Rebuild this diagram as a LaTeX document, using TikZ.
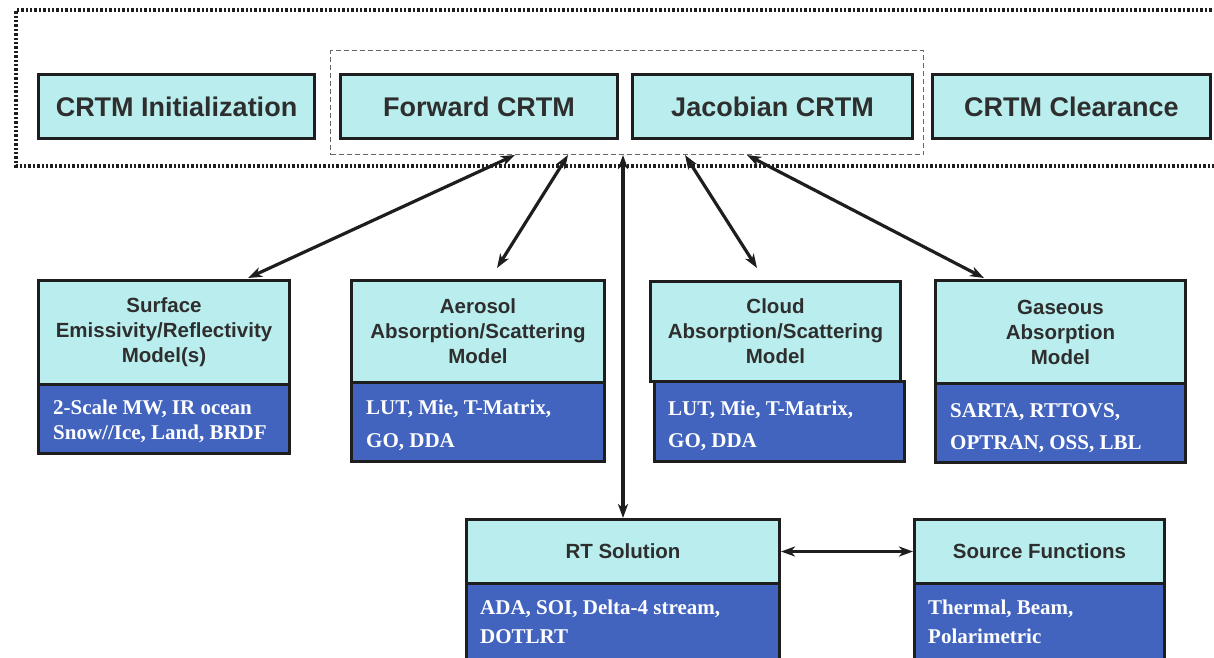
\documentclass[tikz,border=0pt]{standalone}
\usepackage{fontspec}
\setmainfont{Liberation Sans}
\newfontfamily\tnr{Liberation Serif}
\usetikzlibrary{arrows.meta,calc}
\definecolor{lightc}{HTML}{BAEEEE}
\definecolor{darkb}{HTML}{4264BE}
\definecolor{txt}{HTML}{2E2E2E}
\definecolor{edge}{HTML}{1E1E1E}
\begin{document}
\begin{tikzpicture}[x=1pt,y=-1pt,
  topbox/.style={draw=edge, line width=3pt, fill=lightc, anchor=north west, inner sep=0pt, text=txt, minimum height=64pt, font=\fontsize{27}{30}\selectfont\bfseries},
  litebox/.style={draw=edge, line width=3pt, fill=lightc, anchor=north west, inner sep=0pt, text=txt, align=center, font=\fontsize{20.5}{25}\selectfont\bfseries},
  darkbox/.style={draw=edge, line width=3pt, fill=darkb, anchor=north west, inner sep=0pt},
  darktext/.style={anchor=base west, inner sep=0pt, text=white, font=\tnr\fontsize{21}{25}\selectfont\bfseries},
  grpbox/.style={draw=black!60, line width=1pt, dash pattern=on 5pt off 3pt, anchor=north west, inner sep=0pt},
  link/.style={draw=edge, line width=3.2pt, {Stealth[length=14pt,width=10pt,inset=4pt]}-{Stealth[length=14pt,width=10pt,inset=4pt]}},
]
\useasboundingbox (0,0) rectangle (1214,657);
% outer dotted frame (open at the right edge)
\draw[edge, line width=3.2pt, dash pattern=on 2.4pt off 2pt] (1216,10) -- (16,10) -- (16,166) -- (1216,166);
% dashed group
\node[grpbox, minimum width=593pt, minimum height=104pt] (grp) at (330,50) {};
% top row
\node[topbox, minimum width=276pt] (init) at (37,73) {CRTM Initialization};
\node[topbox, minimum width=277pt] (fwd) at (339,73) {Forward CRTM};
\node[topbox, minimum width=280pt] (jac) at (631,73) {Jacobian CRTM};
\node[topbox, minimum width=278pt] (clr) at (931,73) {CRTM Clearance};
% middle row
\node[litebox, minimum width=251pt, minimum height=104pt] (surf) at (37,279) {Surface\\Emissivity/Reflectivity\\Model(s)};
\node[darkbox, minimum width=251pt, minimum height=69pt] (surfd) at (37,383) {};
\node[darktext] (surf1) at (53,414) {2-Scale MW, IR ocean};
\node[darktext] (surf2) at (53,439) {Snow//Ice, Land, BRDF};
\node[litebox, minimum width=253pt, minimum height=102pt] (aer) at (350,279) {Aerosol\\Absorption/Scattering\\Model};
\node[darkbox, minimum width=253pt, minimum height=79pt] (aerd) at (350,381) {};
\node[darktext] (aer1) at (366,414) {LUT, Mie, T-Matrix,};
\node[darktext] (aer2) at (366,447) {GO, DDA};
\node[litebox, minimum width=250pt, minimum height=100pt] (cld) at (649,280) {Cloud\\Absorption/Scattering\\Model};
\node[darkbox, minimum width=250pt, minimum height=80pt] (cldd) at (653,380) {};
\node[darktext] (cld1) at (668,415) {LUT, Mie, T-Matrix,};
\node[darktext] (cld2) at (668,447) {GO, DDA};
\node[litebox, minimum width=250pt, minimum height=103pt] (gas) at (934,279) {Gaseous\\Absorption\\Model};
\node[darkbox, minimum width=250pt, minimum height=79pt] (gasd) at (934,382) {};
\node[darktext] (gas1) at (950,417) {SARTA, RTTOVS,};
\node[darktext] (gas2) at (950,449) {OPTRAN, OSS, LBL};
% bottom row
\node[litebox, minimum width=313pt, minimum height=64pt] (rt) at (465,518) {RT Solution};
\node[darkbox, minimum width=313pt, minimum height=80pt] (rtd) at (465,582) {};
\node[darktext] (rt1) at (480,614) {ADA, SOI, Delta-4 stream,};
\node[darktext] (rt2) at (480,643) {DOTLRT};
\node[litebox, minimum width=250pt, minimum height=64pt] (src) at (913,518) {Source Functions};
\node[darkbox, minimum width=250pt, minimum height=80pt] (srcd) at (913,582) {};
\node[darktext] (src1) at (928,614) {Thermal, Beam,};
\node[darktext] (src2) at (928,643) {Polarimetric};
% connector end points
\coordinate (g1) at ($(grp.south west)+(185,0)$);
\coordinate (g2) at ($(grp.south west)+(238,0)$);
\coordinate (g3) at (grp.south -| rt.north);
\coordinate (g4) at ($(grp.south west)+(355,0)$);
\coordinate (g5) at ($(grp.south west)+(417,0)$);
\coordinate (e1) at ($(surf.north west)+(211,-1)$);
\coordinate (e2) at (497,268);
\coordinate (e4) at (757,268);
\coordinate (e5) at ($(gas.north west)+(50,-1)$);
% connectors
\draw[link] (g1) -- (e1);
\draw[link] (g2) -- (e2);
\draw[link] (g3) -- (rt.north);
\draw[link] (g4) -- (e4);
\draw[link] (g5) -- (e5);
\draw[link] (rt.east) -- (src.west);
\end{tikzpicture}
\end{document}
